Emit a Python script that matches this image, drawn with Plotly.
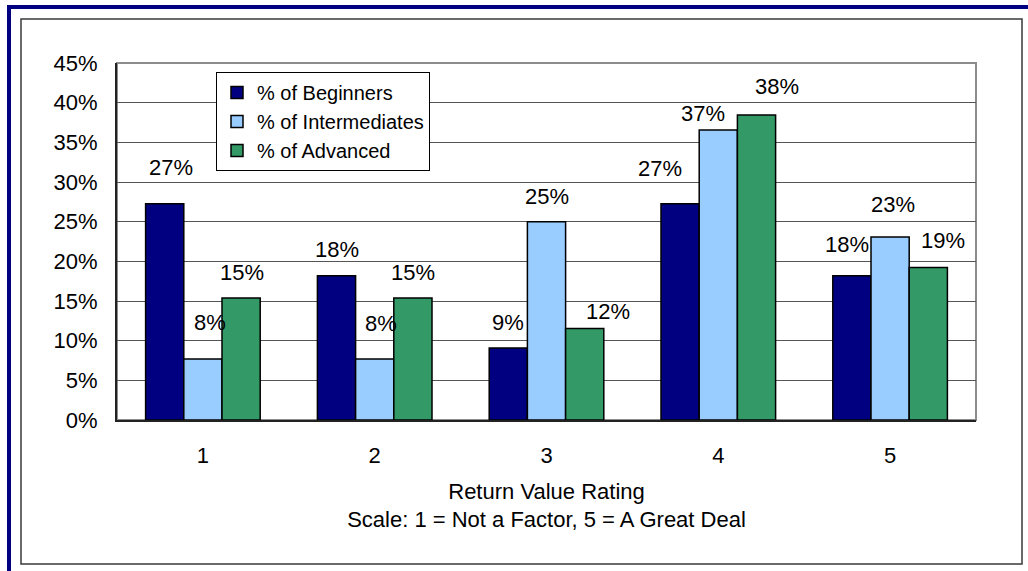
import plotly.graph_objects as go

# ---- data ----
categories = [1, 2, 3, 4, 5]
series_names = ["% of Beginners", "% of Intermediates", "% of Advanced"]
beginners = [27.27, 18.18, 9.09, 27.27, 18.18]
intermediates = [7.69, 7.69, 25.0, 36.54, 23.08]
advanced = [15.38, 15.38, 11.54, 38.46, 19.23]
y_ticks = [0, 5, 10, 15, 20, 25, 30, 35, 40, 45]
x_title = "Return Value Rating<br>Scale: 1 = Not a Factor, 5 = A Great Deal"

# ---- style ----
colors = ["#000080", "#99CCFF", "#339966"]
# label nudges in pixels (x, y) per series per category
label_dx = [[6, 0, 0, -20, -5], [7, 6, 0, -15, 3], [1, 0, 23, 20, 15]]
label_dy = [[36, 26, 25, 35, 31], [36, 35, 25, 17, 32], [25, 25, 17, 28, 27]]

W, H = 1028, 571
L, R, T, B = 117, 976, 63, 420
FONT = "Liberation Sans, Arial, sans-serif"
bargap = 0.333
FS = 22

fig = go.Figure()
all_series = [beginners, intermediates, advanced]
for name, vals, col in zip(series_names, all_series, colors):
    fig.add_trace(go.Bar(
        x=categories, y=vals, name=name,
        marker=dict(color=col, line=dict(color="#000000", width=1.5)),
        hoverinfo="x+y",
    ))

ann = []
bw = (1 - bargap) / 3
for i, vals in enumerate(all_series):
    for j, (c, v) in enumerate(zip(categories, vals)):
        ann.append(dict(
            x=c + (i - 1) * bw, y=v, xref="x", yref="y",
            text=f"{int(v + 0.5)}%", showarrow=False,
            xanchor="center", yanchor="middle",
            xshift=label_dx[i][j], yshift=label_dy[i][j],
            font=dict(family=FONT, size=FS, color="#000000"),
        ))


def px(xp):
    return (xp - L) / (R - L)


def py(yp):
    return (B - yp) / (B - T)


shapes = [
    # plot area border (top/right gray)
    dict(type="rect", xref="paper", yref="paper", x0=0, x1=1, y0=0, y1=1,
         line=dict(color="#8c8c8c", width=2), layer="below"),
    # inner frame
    dict(type="rect", xref="paper", yref="paper", x0=px(21), x1=px(1022),
         y0=py(564), y1=py(19), line=dict(color="#3a3a3a", width=1.5), layer="below"),
    # blue outer border top
    dict(type="rect", xref="paper", yref="paper", x0=px(7), x1=px(1030),
         y0=py(9), y1=py(5), line=dict(width=0), fillcolor="#000080", layer="below"),
    # blue outer border left
    dict(type="rect", xref="paper", yref="paper", x0=px(7), x1=px(11),
         y0=py(575), y1=py(5), line=dict(width=0), fillcolor="#000080", layer="below"),
]

fig.update_layout(
    width=W, height=H,
    margin=dict(l=L, r=W - R, t=T, b=H - B, pad=0),
    paper_bgcolor="#ffffff", plot_bgcolor="#ffffff",
    barmode="group", bargap=bargap, bargroupgap=0,
    font=dict(family=FONT, size=FS, color="#000000"),
    showlegend=True,
    legend=dict(
        x=px(216), y=py(72), xanchor="left", yanchor="top",
        bgcolor="#ffffff", bordercolor="#000000", borderwidth=1,
        font=dict(family=FONT, size=20, color="#000000"),
        tracegroupgap=0, itemwidth=30,
    ),
    annotations=ann,
    shapes=shapes,
    xaxis=dict(
        range=[0.5, 5.5], tickmode="array", tickvals=categories,
        ticktext=[str(c) for c in categories],
        showgrid=False, zeroline=False,
        showline=True, linecolor="#222222", linewidth=2,
        ticks="", ticklabelstandoff=15,
        tickfont=dict(family=FONT, size=FS),
        title=dict(text=x_title, font=dict(family=FONT, size=FS), standoff=16),
        fixedrange=True,
    ),
    yaxis=dict(
        range=[0, 45], tickmode="array", tickvals=y_ticks,
        ticktext=[f"{t}%" for t in y_ticks],
        showgrid=True, gridcolor="#555555", gridwidth=1,
        zeroline=False,
        showline=True, linecolor="#222222", linewidth=2,
        ticks="", ticklabelstandoff=13,
        tickfont=dict(family=FONT, size=FS),
        fixedrange=True,
    ),
)

fig.write_html("out.html", config={"displayModeBar": False},
               post_script="document.body.style.margin='0';")
